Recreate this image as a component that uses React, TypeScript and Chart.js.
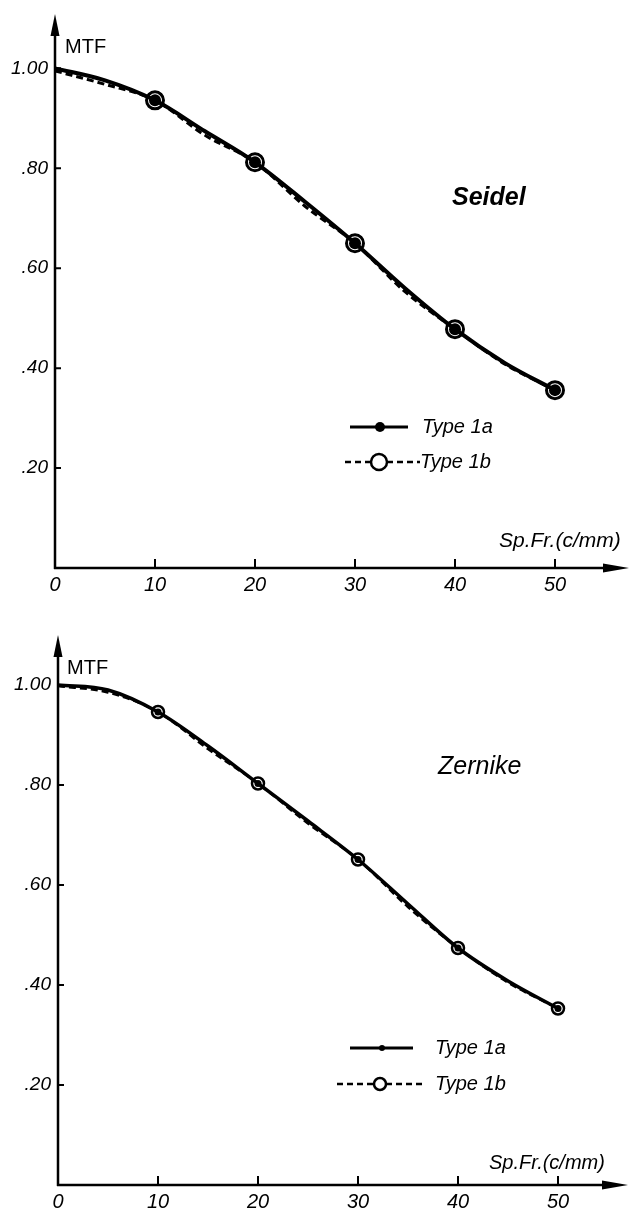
import React, { useEffect, useRef } from 'react';
import { Chart, registerables } from 'chart.js';
Chart.register(...registerables);

// ---------- data ----------
const freq = [0, 5, 10, 15, 20, 25, 30, 35, 40, 45, 50];
const markerFreq = [10, 20, 30, 40, 50];
const seidel1a = [1.0, 0.976, 0.936, 0.874, 0.812, 0.733, 0.65, 0.56, 0.478, 0.41, 0.356];
const seidel1b = [0.995, 0.968, 0.936, 0.866, 0.812, 0.724, 0.65, 0.553, 0.478, 0.408, 0.356];
const zernike1a = [1.0, 0.99, 0.946, 0.878, 0.803, 0.728, 0.651, 0.562, 0.474, 0.408, 0.353];
const zernike1b = [0.998, 0.985, 0.946, 0.872, 0.803, 0.723, 0.651, 0.556, 0.474, 0.405, 0.353];
const xTicks = [0, 10, 20, 30, 40, 50];
const xTickLabels = ['0', '10', '20', '30', '40', '50'];
const yTicks = [0.2, 0.4, 0.6, 0.8, 1.0];
const yTickLabels = ['.20', '.40', '.60', '.80', '1.00'];
const seriesNames = ['Type 1a', 'Type 1b'];
const panelTitles = ['Seidel', 'Zernike'];
const yTitle = 'MTF';
const xTitle = 'Sp.Fr.(c/mm)';

const FONT = "'Liberation Sans', 'DejaVu Sans', sans-serif";

type Leg = { y: number; x0: number; x1: number; mx: number; tx: number };
type Panel = {
  a: number[];
  b: number[];
  title: string;
  height: number;
  padTop: number;
  padRight: number;
  yWidth: number;
  xHeight: number;
  lineA: number;
  lineB: number;
  dotR: number;
  ringR: number;
  ringW: number;
  titlePos: [number, number];
  titleFont: string;
  mtfPos: [number, number];
  xTitlePos: [number, number];
  xTitleSize: number;
  legA: Leg;
  legB: Leg;
  legSize: number;
  legDotR: number;
  legRingR: number;
  arrowTip: number;
  xArrowEnd: number;
};

const panels: Panel[] = [
  {
    a: seidel1a,
    b: seidel1b,
    title: panelTitles[0],
    height: 605,
    padTop: 18,
    padRight: 25,
    yWidth: 55,
    xHeight: 37,
    lineA: 4,
    lineB: 3,
    dotR: 6,
    ringR: 8.5,
    ringW: 3,
    titlePos: [452, 198],
    titleFont: `italic 600 25px ${FONT}`,
    mtfPos: [65, 47],
    xTitlePos: [499, 541],
    xTitleSize: 21,
    legA: { y: 427, x0: 350, x1: 408, mx: 380, tx: 422 },
    legB: { y: 462, x0: 345, x1: 420, mx: 379, tx: 420 },
    legSize: 20,
    legDotR: 5,
    legRingR: 8,
    arrowTip: 14,
    xArrowEnd: 629,
  },
  {
    a: zernike1a,
    b: zernike1b,
    title: panelTitles[1],
    height: 605,
    padTop: 30,
    padRight: 22,
    yWidth: 58,
    xHeight: 25,
    lineA: 3.5,
    lineB: 2.5,
    dotR: 3.5,
    ringR: 6,
    ringW: 2.5,
    titlePos: [438, 162],
    titleFont: `italic 25px ${FONT}`,
    mtfPos: [67, 63],
    xTitlePos: [489, 558],
    xTitleSize: 20,
    legA: { y: 443, x0: 350, x1: 413, mx: 382, tx: 435 },
    legB: { y: 479, x0: 337, x1: 425, mx: 380, tx: 435 },
    legSize: 20,
    legDotR: 3,
    legRingR: 6,
    arrowTip: 30,
    xArrowEnd: 628,
  },
];

function makeDecor(p: Panel) {
  return {
    id: 'decor',
    beforeDatasetsDraw(chart: any) {
      const ctx = chart.ctx;
      const { left, bottom } = chart.chartArea;
      const xs = chart.scales.x;
      const ys = chart.scales.y;
      ctx.save();
      ctx.strokeStyle = '#000';
      ctx.fillStyle = '#000';
      ctx.lineWidth = 2.5;
      ctx.beginPath();
      ctx.moveTo(left, bottom + 1);
      ctx.lineTo(left, p.arrowTip + 12);
      ctx.moveTo(left - 1, bottom);
      ctx.lineTo(p.xArrowEnd - 14, bottom);
      ctx.stroke();
      ctx.beginPath();
      ctx.moveTo(left, p.arrowTip);
      ctx.lineTo(left - 4.5, p.arrowTip + 22);
      ctx.lineTo(left + 4.5, p.arrowTip + 22);
      ctx.closePath();
      ctx.fill();
      ctx.beginPath();
      ctx.moveTo(p.xArrowEnd, bottom);
      ctx.lineTo(p.xArrowEnd - 26, bottom - 4.5);
      ctx.lineTo(p.xArrowEnd - 26, bottom + 4.5);
      ctx.closePath();
      ctx.fill();
      ctx.lineWidth = 2;
      ctx.beginPath();
      yTicks.forEach((v) => {
        const y = ys.getPixelForValue(v);
        ctx.moveTo(left, y);
        ctx.lineTo(left + 6, y);
      });
      xTicks.forEach((v) => {
        if (v === 0) return;
        const x = xs.getPixelForValue(v);
        ctx.moveTo(x, bottom);
        ctx.lineTo(x, bottom - 9);
      });
      ctx.stroke();
      ctx.restore();
    },
    afterDraw(chart: any) {
      const ctx = chart.ctx;
      ctx.save();
      ctx.fillStyle = '#000';
      ctx.strokeStyle = '#000';
      ctx.textBaseline = 'middle';
      ctx.textAlign = 'left';
      ctx.font = `20px ${FONT}`;
      ctx.fillText(yTitle, p.mtfPos[0], p.mtfPos[1]);
      ctx.font = p.titleFont;
      ctx.fillText(p.title, p.titlePos[0], p.titlePos[1]);
      ctx.font = `italic ${p.xTitleSize}px ${FONT}`;
      ctx.fillText(xTitle, p.xTitlePos[0], p.xTitlePos[1]);
      // legend A
      ctx.lineWidth = 3;
      ctx.beginPath();
      ctx.moveTo(p.legA.x0, p.legA.y);
      ctx.lineTo(p.legA.x1, p.legA.y);
      ctx.stroke();
      ctx.beginPath();
      ctx.arc(p.legA.mx, p.legA.y, p.legDotR, 0, Math.PI * 2);
      ctx.fill();
      ctx.font = `italic ${p.legSize}px ${FONT}`;
      ctx.fillText(seriesNames[0], p.legA.tx, p.legA.y);
      // legend B
      ctx.lineWidth = 2.5;
      ctx.setLineDash([6, 4]);
      ctx.beginPath();
      ctx.moveTo(p.legB.x0, p.legB.y);
      ctx.lineTo(p.legB.mx - p.legRingR, p.legB.y);
      ctx.moveTo(p.legB.mx + p.legRingR, p.legB.y);
      ctx.lineTo(p.legB.x1, p.legB.y);
      ctx.stroke();
      ctx.setLineDash([]);
      ctx.beginPath();
      ctx.arc(p.legB.mx, p.legB.y, p.legRingR, 0, Math.PI * 2);
      ctx.fillStyle = '#fff';
      ctx.fill();
      ctx.stroke();
      ctx.fillStyle = '#000';
      ctx.fillText(seriesNames[1], p.legB.tx, p.legB.y);
      ctx.restore();
    },
  };
}

function MTFChart({ p }: { p: Panel }) {
  const ref = useRef<HTMLCanvasElement | null>(null);
  useEffect(() => {
    if (!ref.current) return;
    const radA = freq.map((f) => (markerFreq.includes(f) ? p.dotR : 0));
    const radB = freq.map((f) => (markerFreq.includes(f) ? p.ringR : 0));
    const chart = new Chart(ref.current, {
      type: 'line',
      data: {
        datasets: [
          {
            label: seriesNames[0],
            data: freq.map((f, i) => ({ x: f, y: p.a[i] })),
            borderColor: '#000',
            borderWidth: p.lineA,
            pointRadius: radA,
            pointBackgroundColor: '#000',
            pointBorderWidth: 0,
            cubicInterpolationMode: 'monotone',
            fill: false,
          },
          {
            label: seriesNames[1],
            data: freq.map((f, i) => ({ x: f, y: p.b[i] })),
            borderColor: '#000',
            borderWidth: p.lineB,
            borderDash: [7, 4],
            pointRadius: radB,
            pointBackgroundColor: '#fff',
            pointBorderColor: '#000',
            pointBorderWidth: p.ringW,
            cubicInterpolationMode: 'monotone',
            fill: false,
          },
        ] as any,
      },
      options: {
        responsive: false,
        animation: false,
        events: [],
        layout: { padding: { top: p.padTop, right: p.padRight, left: 0, bottom: 0 } },
        plugins: { legend: { display: false }, tooltip: { enabled: false }, title: { display: false } },
        scales: {
          x: {
            type: 'linear',
            min: 0,
            max: 55,
            grid: { display: false, drawTicks: false },
            border: { display: false },
            afterFit: (s: any) => {
              s.height = p.xHeight;
            },
            afterBuildTicks: (s: any) => {
              s.ticks = xTicks.map((v) => ({ value: v }));
            },
            ticks: {
              padding: 5,
              color: '#000',
              maxRotation: 0,
              font: { family: FONT, size: 20, style: 'italic' },
              callback: (v: any) => {
                const i = xTicks.indexOf(Number(v));
                return i >= 0 ? xTickLabels[i] : '';
              },
            },
          },
          y: {
            type: 'linear',
            min: 0,
            max: 1.1,
            grid: { display: false, drawTicks: false },
            border: { display: false },
            afterFit: (s: any) => {
              s.width = p.yWidth;
            },
            afterBuildTicks: (s: any) => {
              s.ticks = yTicks.map((v) => ({ value: v }));
            },
            ticks: {
              padding: 7,
              color: '#000',
              font: { family: FONT, size: 19, style: 'italic' },
              callback: (v: any) => {
                const i = yTicks.findIndex((t) => Math.abs(t - Number(v)) < 1e-6);
                return i >= 0 ? yTickLabels[i] : '';
              },
            },
          },
        },
      } as any,
      plugins: [makeDecor(p)],
    });
    return () => chart.destroy();
  }, [p]);
  return (
    <canvas
      ref={ref}
      width={630}
      height={p.height}
      style={{ display: 'block', width: 630, height: p.height }}
    />
  );
}

export default function App() {
  return (
    <div style={{ position: 'absolute', left: 0, top: 0, width: 630, height: 1210, background: '#fff' }}>
      {panels.map((p, i) => (
        <MTFChart key={i} p={p} />
      ))}
    </div>
  );
}
